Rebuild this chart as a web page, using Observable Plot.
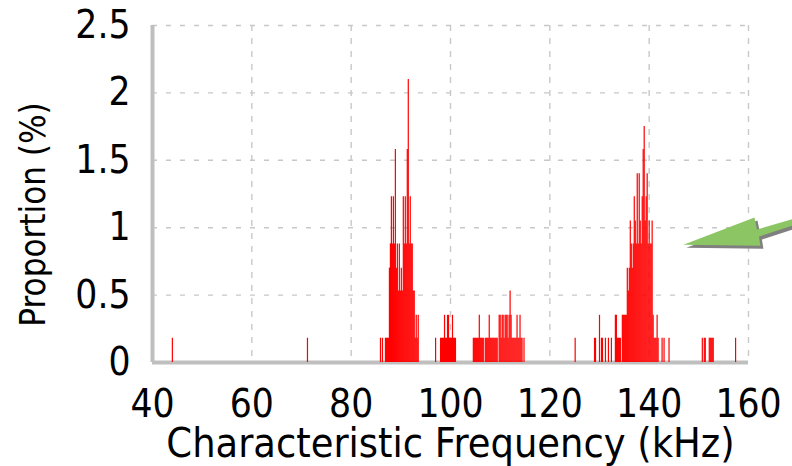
<!DOCTYPE html>
<html><head><meta charset="utf-8">
<script src="https://cdn.jsdelivr.net/npm/d3@7"></script>
<script src="https://cdn.jsdelivr.net/npm/@observablehq/plot@0.6"></script>
<style>
html,body{margin:0;padding:0;background:#fff;}
</style>
</head><body><div id="chart"></div>
<script>
// Characteristic frequency (kHz) of each histogram spike
const freq = [
  44.0, 71.2,
  85.9, 86.3, 86.9, 87.1, 87.3, 87.5, 87.7, 87.9, 88.1, 88.3, 88.5, 88.7, 88.9, 89.1, 89.3, 89.5,
  89.7, 89.9, 90.1, 90.3, 90.5, 90.7, 90.9, 91.1, 91.3, 91.5, 91.7, 91.9, 92.1, 92.3, 92.5, 92.7,
  92.9, 93.1, 93.3, 93.5,
  97.0, 98.0, 98.2, 98.4, 98.6, 98.8, 99.0, 99.2, 99.4, 99.6, 99.8, 100.0, 100.2, 100.4, 100.6, 100.8, 101.0,
  104.6, 104.8, 105.0, 105.2, 105.4, 105.6, 105.8, 106.0, 106.2, 106.4, 106.6,
  107.0, 107.2, 107.4, 107.6, 107.8, 108.0, 108.2, 108.4, 108.6, 108.8, 109.0, 109.2, 109.4,
  109.8, 110.0, 110.2, 110.4, 110.6, 110.8, 111.0, 111.2, 111.4, 111.6, 111.8, 112.0, 112.2,
  112.4, 112.6, 112.8, 113.0, 113.2, 113.4, 113.6, 113.8, 114.0, 114.2, 114.4, 114.8,
  125.1,
  129.0, 129.2, 130.0, 130.4, 130.6, 131.2, 131.8, 132.4, 133.2, 133.4, 133.6, 133.8, 134.0, 134.2,
  134.6, 134.8, 135.0, 135.2, 135.4, 135.6, 135.8, 136.0, 136.2, 136.4, 136.6, 136.8, 137.0, 137.2,
  137.4, 137.6, 137.8, 138.0, 138.2, 138.4, 138.6, 138.8, 139.0, 139.2, 139.4, 139.6, 139.8, 140.0,
  140.2, 140.4, 140.6, 140.8, 141.0, 141.2, 141.4, 141.6, 141.8, 142.6, 143.0, 144.0,
  150.7, 151.1, 151.3, 152.1, 152.3, 152.5, 152.7, 152.9, 157.4
];
// Proportion (%) of each spike
const prop = [
  0.18, 0.18,
  0.18, 0.18, 0.18, 0.18, 0.18, 0.18, 0.70, 0.88, 1.23, 0.88, 1.23, 0.88, 1.58, 0.70, 0.88, 0.53,
  0.88, 0.53, 0.70, 0.53, 1.23, 0.88, 1.23, 0.88, 1.58, 2.10, 0.88, 1.23, 0.88, 0.88, 0.53, 0.53,
  0.18, 0.35, 0.18, 0.35,
  0.18, 0.18, 0.18, 0.18, 0.18, 0.35, 0.18, 0.18, 0.35, 0.35, 0.18, 0.18, 0.18, 0.35, 0.18, 0.18, 0.18,
  0.18, 0.18, 0.18, 0.18, 0.18, 0.18, 0.35, 0.18, 0.18, 0.18, 0.18,
  0.18, 0.18, 0.18, 0.18, 0.35, 0.18, 0.18, 0.18, 0.18, 0.18, 0.18, 0.18, 0.18,
  0.35, 0.35, 0.18, 0.35, 0.35, 0.18, 0.35, 0.35, 0.35, 0.18, 0.35, 0.53, 0.35,
  0.18, 0.18, 0.18, 0.18, 0.18, 0.35, 0.18, 0.18, 0.35, 0.18, 0.18, 0.18,
  0.18,
  0.18, 0.18, 0.35, 0.18, 0.18, 0.18, 0.18, 0.18, 0.35, 0.35, 0.18, 0.18, 0.18, 0.18,
  0.35, 0.35, 0.35, 0.35, 0.35, 0.70, 0.53, 0.70, 1.05, 0.88, 0.70, 0.88, 1.23, 1.05,
  0.88, 1.40, 0.88, 1.40, 1.05, 0.88, 1.23, 1.58, 1.75, 1.05, 1.23, 1.40, 0.88, 1.05,
  0.88, 0.88, 1.05, 0.35, 0.18, 0.18, 0.18, 0.35, 0.18, 0.18, 0.18, 0.18,
  0.18, 0.18, 0.18, 0.18, 0.18, 0.18, 0.18, 0.18, 0.18
];
const xTicks = [40, 60, 80, 100, 120, 140, 160];
const yTicks = [0, 0.5, 1, 1.5, 2, 2.5];
const yTickLabels = ["0", "0.5", "1", "1.5", "2", "2.5"];
const xLabel = "Characteristic Frequency (kHz)";
const yLabel = "Proportion (%)";
// Annotation arrow outline, in data units
const arrowFreq = [146.9, 161.2, 161.7, 168.85, 168.85, 162.1, 162.4];
const arrowProp = [0.874, 1.075, 0.986, 1.064, 1.016, 0.934, 0.867];

const spikes = freq.map((f, i) => ({f, p: prop[i]}));
const arrow = arrowFreq.map((f, i) => ({f, p: arrowProp[i]}));
const gridColor = "#c8c8c8";
const axisColor = "#bfbfbf";

const chart = Plot.plot({
  width: 792,
  height: 466,
  marginLeft: 152,
  marginRight: 44,
  marginTop: 25,
  marginBottom: 104,
  style: {fontFamily: "DejaVu Sans", background: "#fff", color: "#000"},
  x: {domain: [40, 160], ticks: xTicks},
  y: {domain: [0, 2.5], ticks: yTicks},
  marks: [
    Plot.gridY(yTicks.slice(1), {stroke: gridColor, strokeOpacity: 1, strokeWidth: 1.4, strokeDasharray: "5,9"}),
    Plot.gridX(xTicks.slice(1), {stroke: gridColor, strokeOpacity: 1, strokeWidth: 1.4, strokeDasharray: "6,7"}),
    Plot.ruleX([40], {stroke: axisColor, strokeWidth: 4}),
    Plot.ruleY([0], {stroke: axisColor, strokeWidth: 4}),
    Plot.ruleX(spikes, {x: "f", y1: 0, y2: "p", stroke: "#ff0000", strokeWidth: 1.2}),
    Plot.axisX(xTicks, {tickSize: 0, tickPadding: 27, fontSize: 39, label: null}),
    Plot.axisY(yTicks, {tickSize: 0, tickPadding: 22, fontSize: 39, label: null,
      tickFormat: (d) => yTickLabels[yTicks.indexOf(d)]}),
    Plot.text([xLabel], {frameAnchor: "bottom", lineAnchor: "middle", textAnchor: "middle", dy: 81, fontSize: 41.5, fill: "#000"}),
    Plot.text([yLabel], {frameAnchor: "left", lineAnchor: "middle", textAnchor: "middle", dx: -119, dy: 20.5, rotate: -90, fontSize: 35, fill: "#000"}),
    Plot.line(arrow, {x: "f", y: "p", dx: 3, dy: 3, fill: "#808080", stroke: "none", curve: "linear-closed"}),
    Plot.line(arrow, {x: "f", y: "p", fill: "#8cc563", stroke: "none", curve: "linear-closed"})
  ]
});
// Narrow the glyphs a little, like the reference's condensed lettering
chart.querySelectorAll("text").forEach((t) => {
  const tr = t.getAttribute("transform") || "";
  t.setAttribute("transform", `${tr} scale(0.89,1)`);
});
document.getElementById("chart").appendChild(chart);
</script>
</body></html>
